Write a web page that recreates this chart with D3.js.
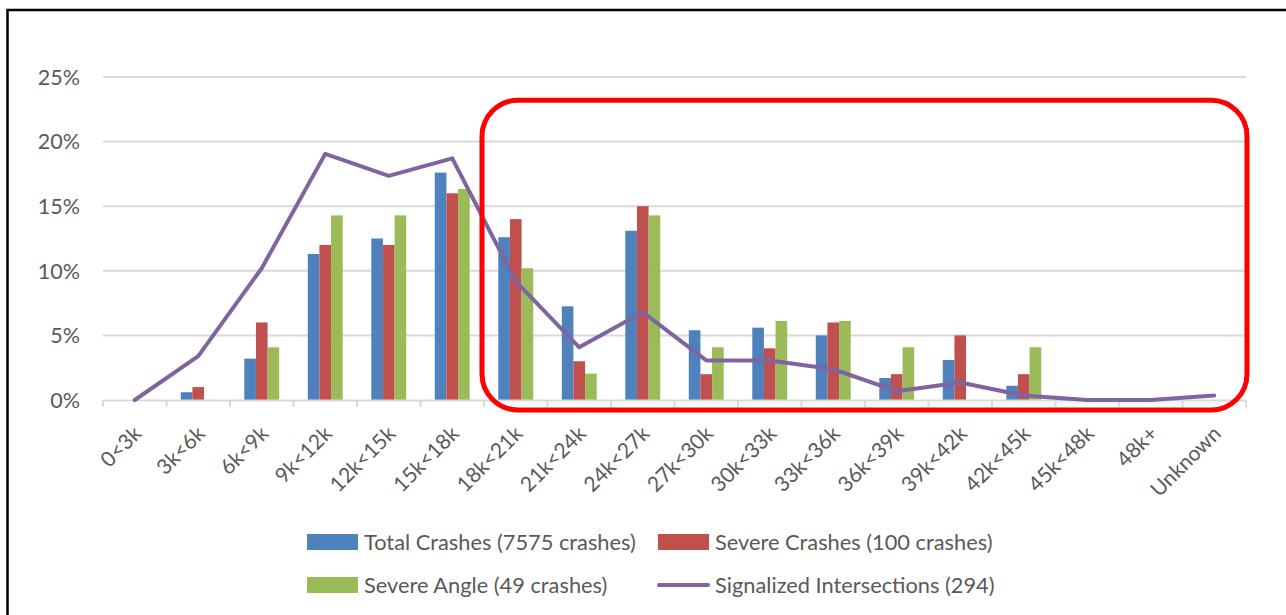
<!DOCTYPE html>
<html>
<head>
<meta charset="utf-8">
<script src="https://cdn.jsdelivr.net/npm/d3@7"></script>
<style>
  html, body { margin: 0; padding: 0; background: #fff; overflow: hidden; }
  svg { display: block; font-family: Lato, 'Open Sans', sans-serif; }
</style>
</head>
<body>
<svg id="chart"></svg>
<script>
(function () {
  // Data (percent of each group)
  var categories = ['0<3k', '3k<6k', '6k<9k', '9k<12k', '12k<15k', '15k<18k', '18k<21k', '21k<24k',
    '24k<27k', '27k<30k', '30k<33k', '33k<36k', '36k<39k', '39k<42k', '42k<45k', '45k<48k', '48k+', 'Unknown']
  var totalCrashes = [0, 0.6, 3.2, 11.3, 12.5, 17.6, 12.6, 7.25, 13.1, 5.4, 5.6, 5.0, 1.7, 3.1, 1.1, 0, 0, 0]
  var severeCrashes = [0, 1, 6, 12, 12, 16, 14, 3, 15, 2, 4, 6, 2, 5, 2, 0, 0, 0]
  var severeAngle = [0, 0, 4.08, 14.29, 14.29, 16.33, 10.2, 2.04, 14.29, 4.08, 6.12, 6.12, 4.08, 0, 4.08, 0, 0, 0]
  var signalized = [0, 3.4, 10.2, 19.05, 17.35, 18.7, 9.18, 4.08, 6.8, 3.06, 3.06, 2.38, 0.68, 1.36, 0.34, 0, 0, 0.34]
  var yTicks = [0, 5, 10, 15, 20, 25]
  var seriesNames = ['Total Crashes (7575 crashes)', 'Severe Crashes (100 crashes)', 'Severe Angle (49 crashes)', 'Signalized Intersections (294)']

  var WIDTH = 1286
  var HEIGHT = 615
  var TEXT = '#595959'
  var GRID = '#d9d9d9'
  var COLORS = ['#4f81bd', '#c0504d', '#9bbb59', '#8064a2']

  var svg = d3.select('#chart')
    .attr('width', WIDTH)
    .attr('height', HEIGHT)

  // Outer frame (runs off the right and bottom)
  svg.append('rect')
    .attr('x', 7.5).attr('y', 10)
    .attr('width', 1400).attr('height', 800)
    .attr('fill', 'none')
    .attr('stroke', '#000')
    .attr('stroke-width', 2.5)

  var x = d3.scaleBand().domain(categories).range([103, 1246]).padding(0)
  var y = d3.scaleLinear().domain([0, 25]).range([400, 77])
  var groupW = x.bandwidth() * 0.55
  var x1 = d3.scaleBand().domain([0, 1, 2]).range([0, groupW])

  // Gridlines
  svg.append('g')
    .selectAll('line')
    .data(yTicks.filter(function (d) { return d > 0 }))
    .enter().append('line')
    .attr('x1', x.range()[0]).attr('x2', x.range()[1])
    .attr('y1', function (d) { return y(d) }).attr('y2', function (d) { return y(d) })
    .attr('stroke', GRID)
    .attr('stroke-width', 2)

  // Y labels
  svg.append('g')
    .selectAll('text')
    .data(yTicks)
    .enter().append('text')
    .attr('x', 80)
    .attr('y', function (d) { return y(d) })
    .attr('dy', '0.36em')
    .attr('text-anchor', 'end')
    .attr('fill', TEXT)
    .style('font-size', '21.5px')
    .text(function (d) { return d + '%' })

  // Bars
  var bars = [totalCrashes, severeCrashes, severeAngle]
  bars.forEach(function (values, si) {
    svg.append('g')
      .selectAll('rect')
      .data(values)
      .enter().append('rect')
      .attr('x', function (d, i) { return x(categories[i]) + (x.bandwidth() - groupW) / 2 + x1(si) })
      .attr('width', x1.bandwidth())
      .attr('y', function (d) { return y(d) })
      .attr('height', function (d) { return y(0) - y(d) })
      .attr('fill', COLORS[si])
  })

  // X axis
  var axisG = svg.append('g')
    .attr('transform', 'translate(0,' + y(0) + ')')
    .call(d3.axisBottom(x).tickSize(0).tickFormat(''))
  axisG.select('.domain').attr('stroke', GRID).attr('stroke-width', 2)
  axisG.selectAll('.tick').remove()

  var boundaries = categories.map(function (c) { return x(c) }).concat([x.range()[1]])
  svg.append('g')
    .selectAll('line')
    .data(boundaries)
    .enter().append('line')
    .attr('x1', function (d) { return d }).attr('x2', function (d) { return d })
    .attr('y1', y(0)).attr('y2', y(0) + 7)
    .attr('stroke', GRID)
    .attr('stroke-width', 2)

  svg.append('g')
    .selectAll('text')
    .data(categories)
    .enter().append('text')
    .attr('transform', function (d) {
      return 'translate(' + (x(d) + x.bandwidth() / 2 + 8) + ',' + (y(0) + 35) + ') rotate(-45)'
    })
    .attr('text-anchor', 'end')
    .attr('fill', TEXT)
    .style('font-size', '21px')
    .text(function (d) { return d })

  // Line
  var line = d3.line()
    .x(function (d, i) { return x(categories[i]) + x.bandwidth() / 2 })
    .y(function (d) { return y(d) })
  svg.append('path')
    .datum(signalized)
    .attr('d', line)
    .attr('fill', 'none')
    .attr('stroke', COLORS[3])
    .attr('stroke-width', 4)
    .attr('stroke-linejoin', 'round')
    .attr('stroke-linecap', 'round')

  // Red highlight box
  var boxL = x('18k<21k') - 2
  var boxR = x.range()[1] + 1
  svg.append('rect')
    .attr('x', boxL)
    .attr('y', y(23.2))
    .attr('width', boxR - boxL)
    .attr('height', y(0) + 10 - y(23.2))
    .attr('rx', 36).attr('ry', 36)
    .attr('fill', 'none')
    .attr('stroke', '#ff0000')
    .attr('stroke-width', 5)

  // Legend
  var legendPos = [[307, 542], [658, 542], [307, 585], [658, 585]]
  var legend = svg.append('g')
    .selectAll('g')
    .data(seriesNames)
    .enter().append('g')
    .attr('transform', function (d, i) { return 'translate(' + legendPos[i][0] + ',' + legendPos[i][1] + ')' })

  legend.each(function (d, i) {
    var g = d3.select(this)
    if (i < 3) {
      g.append('rect').attr('x', 0).attr('y', -8).attr('width', 51).attr('height', 16).attr('fill', COLORS[i])
    } else {
      g.append('line').attr('x1', 1).attr('x2', 50).attr('y1', 0).attr('y2', 0)
        .attr('stroke', COLORS[i]).attr('stroke-width', 4).attr('stroke-linecap', 'round')
    }
    g.append('text')
      .attr('x', 57)
      .attr('dy', '0.35em')
      .attr('fill', TEXT)
      .style('font-size', '21.8px')
      .text(d)
  })
})()
</script>
</body>
</html>
